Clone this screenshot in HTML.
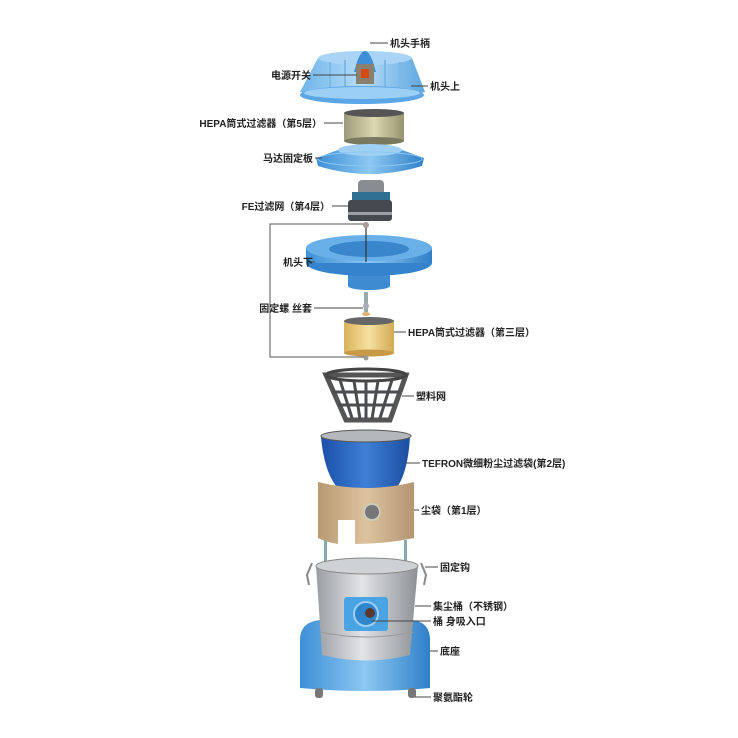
<!DOCTYPE html>
<html><head><meta charset="utf-8">
<style>
html,body{margin:0;padding:0;background:#fff;}
svg{display:block}
text{font-family:"Liberation Sans","Noto Sans CJK SC",sans-serif;font-size:10px;font-weight:bold;fill:#222;}
</style></head><body>
<svg width="738" height="738" viewBox="0 0 738 738" xmlns="http://www.w3.org/2000/svg">
<defs>
<linearGradient id="blue" x1="0" x2="1"><stop offset="0" stop-color="#3d8fd6"/><stop offset=".5" stop-color="#8cc8f2"/><stop offset="1" stop-color="#2f7fc8"/></linearGradient>
<linearGradient id="lblue" x1="0" x2="1"><stop offset="0" stop-color="#6fb4ea"/><stop offset=".5" stop-color="#b6dcf7"/><stop offset="1" stop-color="#5ea6e0"/></linearGradient>
<linearGradient id="steel" x1="0" x2="1"><stop offset="0" stop-color="#9a9ea3"/><stop offset=".45" stop-color="#e2e4e6"/><stop offset="1" stop-color="#8d9196"/></linearGradient>
<linearGradient id="dblue" x1="0" x2="1"><stop offset="0" stop-color="#1a4fa8"/><stop offset=".5" stop-color="#3f7fd6"/><stop offset="1" stop-color="#1b4ea0"/></linearGradient>
<linearGradient id="brown" x1="0" x2="1"><stop offset="0" stop-color="#b89a72"/><stop offset=".5" stop-color="#dcc39e"/><stop offset="1" stop-color="#b39570"/></linearGradient>
<linearGradient id="yel" x1="0" x2="1"><stop offset="0" stop-color="#d9b25a"/><stop offset=".5" stop-color="#f7e0a0"/><stop offset="1" stop-color="#d2a954"/></linearGradient>
<linearGradient id="mesh" x1="0" x2="1"><stop offset="0" stop-color="#9c9a7a"/><stop offset=".5" stop-color="#dcd8b0"/><stop offset="1" stop-color="#96946f"/></linearGradient>
</defs>

<!-- bracket line -->
<path d="M365 224 H270 V357 H365" fill="none" stroke="#555" stroke-width="1"/>

<!-- top head -->
<path d="M318 58 L412 58 L425 92 Q362 106 300 92 Z" fill="url(#lblue)"/>
<ellipse cx="365" cy="58" rx="47" ry="7" fill="#a9d4f5"/>
<path d="M357 62 Q365 40 373 62 L376 72 H354 Z" fill="#3f8fd8"/>
<path d="M330 62 V90 M345 60 V92 M385 60 V92 M400 62 V90" stroke="#7bb9e8" stroke-width="2"/>
<ellipse cx="362" cy="95" rx="62" ry="9" fill="#5aa6e6"/>
<ellipse cx="362" cy="93" rx="58" ry="6" fill="#9ccff4"/>
<rect x="356" y="64" width="18" height="20" fill="#8a8070"/>
<rect x="361" y="69" width="8" height="9" fill="#d64a10"/>

<!-- HEPA 5 -->
<rect x="344" y="113" width="60" height="28" fill="url(#mesh)"/>
<ellipse cx="374" cy="113" rx="30" ry="4" fill="#555"/>
<ellipse cx="374" cy="141" rx="30" ry="4" fill="#7a7860"/>

<!-- motor plate -->
<path d="M338 150 L316 158 L318 166 Q370 182 422 166 L424 158 L402 150 Z" fill="url(#blue)"/>
<ellipse cx="370" cy="150" rx="32" ry="6" fill="#9fd0f4"/>
<ellipse cx="370" cy="159" rx="52" ry="7" fill="none" stroke="#8cc8f2" stroke-width="1"/>

<!-- motor -->
<rect x="358" y="180" width="26" height="16" rx="4" fill="#8a8d90"/>
<rect x="352" y="192" width="38" height="10" fill="#2f6f90"/>
<rect x="348" y="200" width="44" height="21" rx="3" fill="#444a50"/>
<rect x="348" y="212" width="44" height="3" fill="#9aa0a5"/>

<!-- screw top -->
<circle cx="366" cy="225" r="3" fill="#a99"/>

<!-- lower head -->
<rect x="348" y="262" width="42" height="24" fill="#3e8bd2"/>
<ellipse cx="369" cy="286" rx="21" ry="4" fill="#3e8bd2"/>
<ellipse cx="369" cy="263" rx="63" ry="13" fill="#3583cc"/>
<rect x="306" y="248" width="126" height="15" fill="url(#blue)"/>
<ellipse cx="369" cy="248" rx="63" ry="13" fill="#69b0e8"/>
<ellipse cx="369" cy="249" rx="40" ry="8" fill="#3a86cc"/>
<line x1="366" y1="228" x2="366" y2="262" stroke="#333" stroke-width="1.2"/>

<!-- screw -->
<rect x="364" y="292" width="4" height="20" fill="#9aa"/>
<circle cx="366" cy="306" r="3" fill="#aab"/>
<ellipse cx="366" cy="314" rx="4" ry="2" fill="#e0b070"/>

<!-- HEPA 3 -->
<rect x="344" y="321" width="50" height="32" fill="url(#yel)"/>
<ellipse cx="369" cy="321" rx="25" ry="4" fill="#666"/>
<ellipse cx="369" cy="353" rx="25" ry="3.5" fill="#c89a48"/>
<circle cx="366" cy="358" r="2.5" fill="#999"/>

<!-- basket -->
<path d="M326 375 L406 375 L390 420 L346 420 Z" fill="none" stroke="#555" stroke-width="5"/>
<ellipse cx="366" cy="375" rx="40" ry="6" fill="none" stroke="#444" stroke-width="3"/>
<path d="M340 380 L352 418 M354 381 L360 419 M366 381 V419 M378 381 L372 419 M392 380 L380 418 M332 392 H400 M338 405 H394" stroke="#4a4c4f" stroke-width="3"/>

<!-- blue bag -->
<path d="M321 437 L410 437 Q408 470 398 486 Q366 494 336 486 Q324 470 321 437 Z" fill="url(#dblue)"/>
<ellipse cx="366" cy="436" rx="45" ry="6" fill="#b5b8ba" stroke="#555" stroke-width="1"/>

<!-- brown bag -->
<path d="M318 482 Q366 494 414 482 L414 538 Q385 544 355 544 L355 520 L338 520 L338 544 Q326 542 318 538 Z" fill="url(#brown)"/>
<circle cx="372" cy="512" r="8" fill="#777" stroke="#ccb" stroke-width="2"/>

<!-- rods -->
<rect x="324" y="540" width="3" height="24" fill="#8aa"/>
<rect x="404" y="540" width="3" height="24" fill="#8aa"/>

<!-- base -->
<path d="M300 640 Q300 622 320 620 L412 620 Q430 622 430 640 L430 688 Q366 694 300 688 Z" fill="url(#blue)"/>
<rect x="315" y="688" width="8" height="10" rx="3" fill="#777"/>
<rect x="408" y="688" width="8" height="10" rx="3" fill="#777"/>

<!-- bucket -->
<path d="M316 566 L418 566 L410 655 Q366 666 322 655 Z" fill="url(#steel)"/>
<ellipse cx="367" cy="566" rx="51" ry="8" fill="#cfd2d4" stroke="#888" stroke-width="1"/>
<path d="M312 563 L307 575 L309 585 M421 563 L426 575 L424 585" stroke="#888" stroke-width="2" fill="none"/>
<path d="M320 632 Q366 642 414 632" stroke="#999" fill="none"/>
<rect x="344" y="597" width="44" height="34" rx="3" fill="#4aa4e4"/>
<circle cx="366" cy="614" r="12" fill="#2e86cc" stroke="#9fd0f4" stroke-width="2"/>
<circle cx="370" cy="613" r="5" fill="#5a3a30"/>

<!-- leader lines -->
<g stroke="#444" stroke-width="1">
<line x1="370" y1="43" x2="388" y2="43"/>
<line x1="313" y1="75" x2="357" y2="75"/>
<line x1="411" y1="86" x2="428" y2="86"/>
<line x1="324" y1="123" x2="343" y2="123"/>
<line x1="315" y1="158" x2="322" y2="158"/>
<line x1="332" y1="206" x2="348" y2="206"/>
<line x1="315" y1="262" x2="310" y2="262"/>
<line x1="314" y1="308" x2="363" y2="308"/>
<line x1="394" y1="332" x2="406" y2="332"/>
<line x1="402" y1="396" x2="414" y2="396"/>
<line x1="406" y1="463" x2="420" y2="463"/>
<line x1="414" y1="510" x2="419" y2="510"/>
<line x1="425" y1="567" x2="438" y2="567"/>
<line x1="415" y1="606" x2="431" y2="606"/>
<line x1="372" y1="621" x2="431" y2="621"/>
<line x1="430" y1="651" x2="438" y2="651"/>
<line x1="415" y1="697" x2="431" y2="697"/>
</g>

<!-- labels -->
<text x="390" y="47">机头手柄</text>
<text x="311" y="79" text-anchor="end">电源开关</text>
<text x="430" y="90">机头上</text>
<text x="322" y="127" text-anchor="end">HEPA筒式过滤器（第5层）</text>
<text x="313" y="162" text-anchor="end">马达固定板</text>
<text x="330" y="210" text-anchor="end">FE过滤网（第4层）</text>
<text x="313" y="266" text-anchor="end">机头下</text>
<text x="312" y="312" text-anchor="end">固定螺 丝套</text>
<text x="408" y="336">HEPA筒式过滤器（第三层）</text>
<text x="416" y="400">塑料网</text>
<text x="422" y="467">TEFRON微细粉尘过滤袋(第2层)</text>
<text x="421" y="514">尘袋（第1层）</text>
<text x="440" y="571">固定钩</text>
<text x="433" y="610">集尘桶（不锈钢）</text>
<text x="433" y="625">桶 身吸入口</text>
<text x="440" y="655">底座</text>
<text x="433" y="701">聚氨酯轮</text>
</svg>
</body></html>
